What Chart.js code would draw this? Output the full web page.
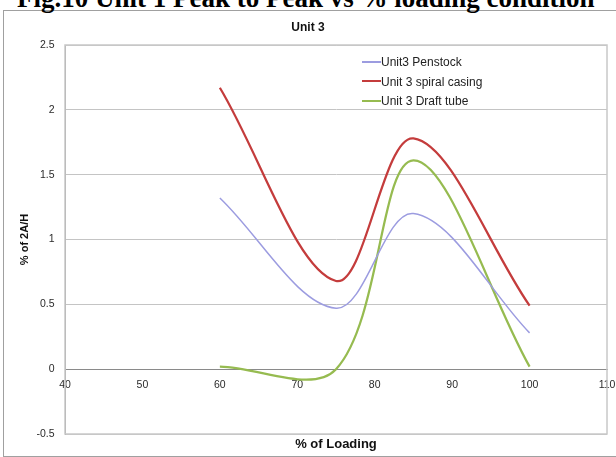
<!DOCTYPE html>
<html>
<head>
<meta charset="utf-8">
<script src="https://cdn.jsdelivr.net/npm/chart.js@4/dist/chart.umd.min.js"></script>
<style>
  html, body { margin: 0; padding: 0; background: #fff; overflow: hidden; width: 616px; height: 457px; }
  #frame { position: absolute; left: 3px; top: 10px; width: 660px; height: 445px; border: 1.5px solid #a0a0a0; }
  #heading { position: absolute; left: 17px; top: -15px; font: bold 27px "Liberation Serif", "Times New Roman", serif; line-height: 1; white-space: nowrap; color: #000; }
  #chartCanvas { position: absolute; left: 0; top: 0; }
  #legend { position: absolute; left: 362px; top: 53px; font: 12px "Liberation Sans", Arial, sans-serif; color: #222; }
  #legend div { height: 19.5px; line-height: 19.5px; white-space: nowrap; }
  #legend span { display: inline-block; width: 19px; height: 2px; vertical-align: middle; margin-top: -2px; }
</style>
</head>
<body>
<div id="frame"></div>
<div id="heading">Fig.10 Unit 1 Peak to Peak vs % loading condition</div>
<canvas id="chartCanvas" width="616" height="457"></canvas>
<div id="legend"></div>
<script>
// values
const loading = [60, 75, 85, 100];
const penstock = [1.32, 0.47, 1.2, 0.28];
const spiralCasing = [2.17, 0.68, 1.78, 0.49];
const draftTube = [0.02, 0.0, 1.61, 0.02];
const seriesNames = ["Unit3 Penstock", "Unit 3 spiral casing", "Unit 3 Draft tube"];

const font = '"Liberation Sans", Arial, sans-serif';

function pts(vals) {
  return loading.map((x, i) => ({ x: x, y: vals[i] }));
}

// light box round the plot area
const plotBox = {
  id: "plotBox",
  beforeDatasetsDraw(chart) {
    const a = chart.chartArea;
    const c = chart.ctx;
    c.save();
    c.strokeStyle = "#c8c8c8";
    c.lineWidth = 1.5;
    c.strokeRect(a.left, a.top, a.right - a.left, a.bottom - a.top);
    c.restore();
  },
};

let ctx = document.getElementById("chartCanvas").getContext("2d");
const chart = new Chart(ctx, {
  type: "line",
  data: {
    datasets: [
      {
        label: seriesNames[0],
        data: pts(penstock),
        borderColor: "#9c9ce0",
        borderWidth: 1.5,
      },
      {
        label: seriesNames[1],
        data: pts(spiralCasing),
        borderColor: "#c43c3c",
        borderWidth: 2.25,
      },
      {
        label: seriesNames[2],
        data: pts(draftTube),
        borderColor: "#96bb50",
        borderWidth: 2.25,
      },
    ],
  },
  options: {
    responsive: false,
    animation: false,
    devicePixelRatio: 1,
    layout: { padding: 0 },
    elements: {
      point: { radius: 0 },
      line: { tension: 0.35, fill: false, capBezierPoints: false },
    },
    scales: {
      x: {
        type: "linear",
        position: { y: 0 },
        min: 40,
        max: 110,
        grid: { display: false, drawTicks: false },
        border: { display: true, color: "#8a8a8a", width: 1 },
        ticks: {
          stepSize: 10,
          padding: 10,
          color: "#2a2a2a",
          font: { family: font, size: 10.5 },
          maxRotation: 0,
        },
        afterFit(s) {
          s.paddingLeft = 0;
          s.paddingRight = 0;
        },
      },
      x2: {
        type: "linear",
        position: "bottom",
        min: 40,
        max: 110,
        grid: { display: false, drawTicks: false },
        border: { display: false },
        ticks: { display: false },
        title: {
          display: true,
          text: "% of Loading",
          color: "#111",
          font: { family: font, size: 13, weight: "bold" },
          padding: { top: 0, bottom: 5 },
        },
        afterFit(s) {
          s.height = 23;
        },
      },
      y: {
        min: -0.5,
        max: 2.5,
        grid: { color: "#c4c4c4", lineWidth: 1, drawTicks: false },
        border: { display: true, color: "#999", width: 1 },
        ticks: {
          stepSize: 0.5,
          padding: 10.5,
          color: "#2a2a2a",
          font: { family: font, size: 10.5 },
          callback: (v) => String(Math.round(v * 10) / 10),
        },
        title: {
          display: true,
          text: "% of 2A/H",
          color: "#111",
          font: { family: font, size: 11, weight: "bold" },
          padding: { top: 18.4, bottom: 0 },
        },
        afterFit(s) {
          s.width = 65;
        },
      },
      // empty right-hand strip so the plot stops short of the edge
      yRight: {
        position: "right",
        min: -0.5,
        max: 2.5,
        grid: { display: false, drawTicks: false },
        border: { display: false },
        ticks: { display: false },
        afterFit(s) {
          s.width = 9;
        },
      },
    },
    plugins: {
      legend: { display: false },
      tooltip: { enabled: false },
      title: {
        display: true,
        text: "Unit 3",
        color: "#111",
        font: { family: font, size: 12, weight: "bold" },
        padding: { top: 20, bottom: 10.6 },
      },
    },
  },
  plugins: [plotBox],
});

// legend inside the plot, built from the datasets
const legendDiv = document.getElementById("legend");
chart.data.datasets.forEach((ds) => {
  const row = document.createElement("div");
  const sw = document.createElement("span");
  sw.style.background = ds.borderColor;
  row.appendChild(sw);
  row.appendChild(document.createTextNode(ds.label));
  legendDiv.appendChild(row);
});
</script>
</body>
</html>
